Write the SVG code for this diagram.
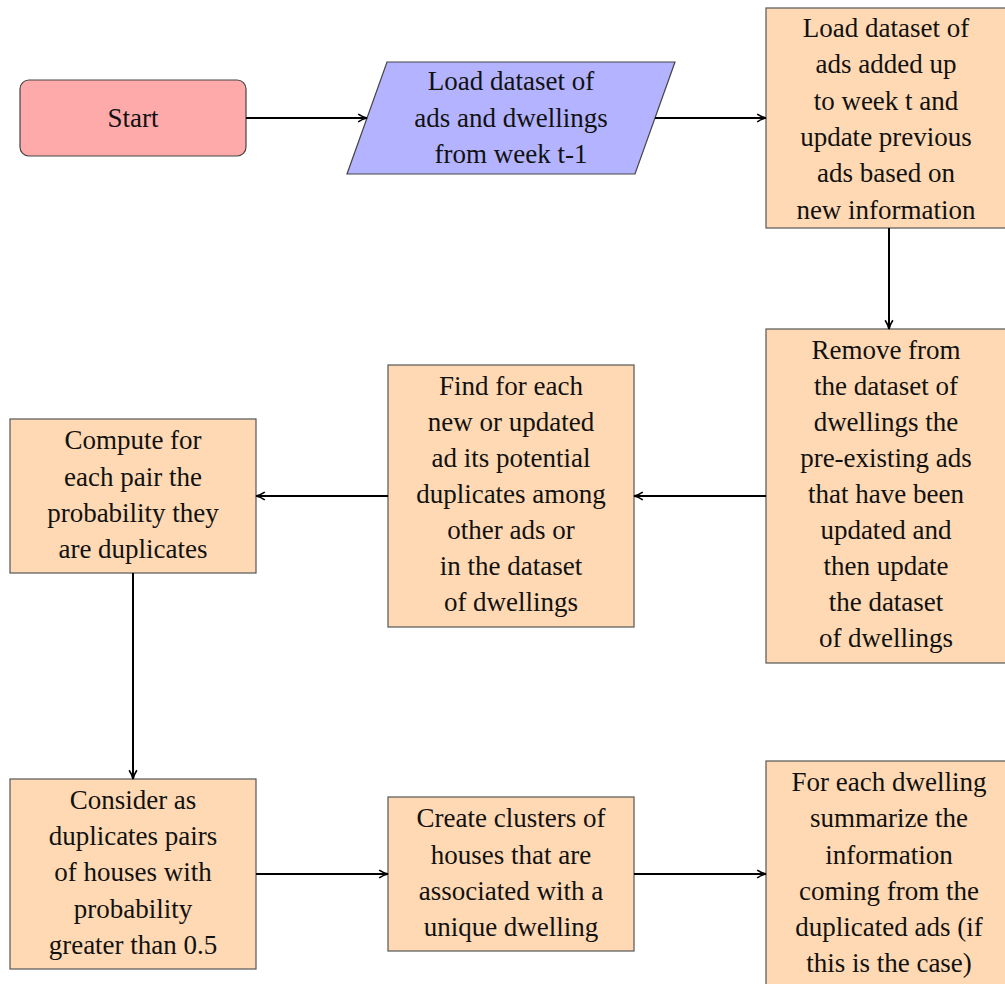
<svg xmlns="http://www.w3.org/2000/svg" width="1005" height="984" viewBox="0 0 1005 984">
<defs>
<style>
.box{fill:#ffd9b3;stroke:#555;stroke-width:1.2}
.t{font-size:27px;fill:#111;text-anchor:middle}
.c{stroke:#000;stroke-width:2;fill:none;marker-end:url(#ah)}
</style>
<marker id="ah" viewBox="0 0 10 10" refX="9" refY="5" markerWidth="11" markerHeight="11" markerUnits="userSpaceOnUse" orient="auto">
<path d="M1,1.5 Q5,4.2 9,5 Q5,5.8 1,8.5" fill="none" stroke="#000" stroke-width="1.5"/>
</marker>
</defs>
<rect width="1005" height="984" fill="#fff"/>
<g font-family="Liberation Serif, DejaVu Serif, serif">
<g id="start">
<rect x="20" y="80" width="226" height="76" rx="9" fill="#ffaaaa" stroke="#444" stroke-width="1.2"/>
<text class="t" x="133" y="127">Start</text>
</g>
<g id="load-prev">
<polygon points="387,62 675,62 635,174 347,174" fill="#b3b3ff" stroke="#444" stroke-width="1.2"/>
<text class="t" x="511" y="90">Load dataset of</text>
<text class="t" x="511" y="127">ads and dwellings</text>
<text class="t" x="511" y="163">from week t-1</text>
</g>
<g id="load-new">
<rect class="box" x="766" y="8" width="240" height="220"/>
<text class="t" x="886" y="37">Load dataset of</text>
<text class="t" x="886" y="73">ads added up</text>
<text class="t" x="886" y="110">to week t and</text>
<text class="t" x="886" y="146">update previous</text>
<text class="t" x="886" y="182">ads based on</text>
<text class="t" x="886" y="219">new information</text>
</g>
<g id="remove">
<rect class="box" x="766" y="329" width="240" height="334"/>
<text class="t" x="886" y="359">Remove from</text>
<text class="t" x="886" y="395">the dataset of</text>
<text class="t" x="886" y="431">dwellings the</text>
<text class="t" x="886" y="467">pre-existing ads</text>
<text class="t" x="886" y="503">that have been</text>
<text class="t" x="886" y="539">updated and</text>
<text class="t" x="886" y="575">then update</text>
<text class="t" x="886" y="611">the dataset</text>
<text class="t" x="886" y="647">of dwellings</text>
</g>
<g id="find">
<rect class="box" x="388" y="365" width="246" height="262"/>
<text class="t" x="511" y="395">Find for each</text>
<text class="t" x="511" y="431">new or updated</text>
<text class="t" x="511" y="467">ad its potential</text>
<text class="t" x="511" y="503">duplicates among</text>
<text class="t" x="511" y="539">other ads or</text>
<text class="t" x="511" y="575">in the dataset</text>
<text class="t" x="511" y="611">of dwellings</text>
</g>
<g id="compute">
<rect class="box" x="10" y="419" width="246" height="154"/>
<text class="t" x="133" y="449">Compute for</text>
<text class="t" x="133" y="486">each pair the</text>
<text class="t" x="133" y="522">probability they</text>
<text class="t" x="133" y="558">are duplicates</text>
</g>
<g id="consider">
<rect class="box" x="10" y="779" width="246" height="190"/>
<text class="t" x="133" y="809">Consider as</text>
<text class="t" x="133" y="845">duplicates pairs</text>
<text class="t" x="133" y="881">of houses with</text>
<text class="t" x="133" y="918">probability</text>
<text class="t" x="133" y="954">greater than 0.5</text>
</g>
<g id="clusters">
<rect class="box" x="388" y="797" width="246" height="154"/>
<text class="t" x="511" y="827">Create clusters of</text>
<text class="t" x="511" y="864">houses that are</text>
<text class="t" x="511" y="900">associated with a</text>
<text class="t" x="511" y="936">unique dwelling</text>
</g>
<g id="summarize">
<rect class="box" x="766" y="761" width="240" height="240"/>
<text class="t" x="889" y="791">For each dwelling</text>
<text class="t" x="889" y="827">summarize the</text>
<text class="t" x="889" y="864">information</text>
<text class="t" x="889" y="900">coming from the</text>
<text class="t" x="889" y="936">duplicated ads (if</text>
<text class="t" x="889" y="972">this is the case)</text>
</g>
</g>
<g id="connectors">
<line class="c" x1="246" y1="118" x2="367" y2="118"/>
<line class="c" x1="655" y1="118" x2="766" y2="118"/>
<line class="c" x1="889" y1="228" x2="889" y2="329"/>
<line class="c" x1="766" y1="496" x2="634" y2="496"/>
<line class="c" x1="388" y1="496" x2="256" y2="496"/>
<line class="c" x1="133" y1="573" x2="133" y2="779"/>
<line class="c" x1="256" y1="874" x2="388" y2="874"/>
<line class="c" x1="634" y1="874" x2="766" y2="874"/>
</g>
</svg>
